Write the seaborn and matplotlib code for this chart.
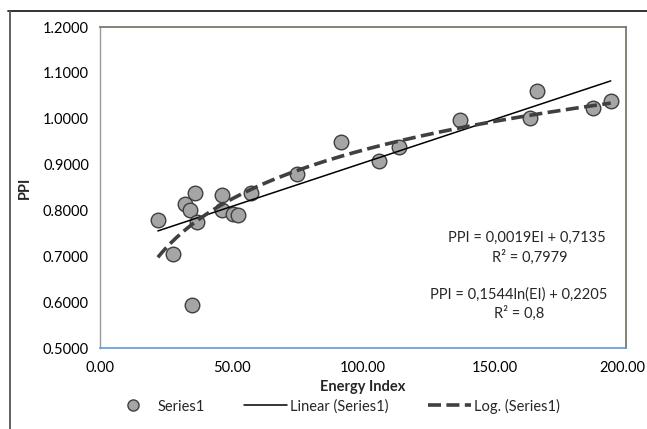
import numpy as np
import pandas as pd
import matplotlib
matplotlib.use("Agg")
import matplotlib.pyplot as plt
import matplotlib.transforms as mtransforms
from matplotlib.lines import Line2D
import seaborn as sns

# Energy Index vs PPI observations
energy_index = [22.0, 27.6, 32.3, 34.1, 34.9, 36.1, 37.0, 46.3, 46.3, 50.7, 52.6,
                57.3, 75.0, 91.5, 106.2, 113.7, 136.9, 163.5, 166.3, 187.6, 194.2]
ppi = [0.780, 0.706, 0.813, 0.800, 0.594, 0.839, 0.774, 0.834, 0.800, 0.792, 0.790,
       0.839, 0.879, 0.949, 0.908, 0.939, 0.997, 1.002, 1.061, 1.023, 1.039]

# Trendline coefficients
lin_slope, lin_intercept, lin_r2 = 0.0019, 0.7135, "0,7979"
log_coef, log_intercept, log_r2 = 0.1544, 0.2205, "0,8"

x_ticks = [0, 50, 100, 150, 200]
y_ticks = [0.5, 0.6, 0.7, 0.8, 0.9, 1.0, 1.1, 1.2]

sns.set_theme(style="white")
plt.rcParams["font.family"] = ["Lato", "DejaVu Sans"]

W, H = 647, 429
fig = plt.figure(figsize=(W / 100, H / 100), dpi=100)
ax = fig.add_axes([100 / W, 1 - 348 / H, 526 / W, 321 / H])

df = pd.DataFrame({"EI": energy_index, "PPI": ppi})
xs = np.linspace(min(energy_index), max(energy_index), 200)
trend = pd.DataFrame({
    "EI": xs,
    "lin": lin_slope * xs + lin_intercept,
    "log": log_coef * np.log(xs) + log_intercept,
})

LOG_DASH = [3.6, 1.5]

sns.scatterplot(data=df, x="EI", y="PPI", ax=ax, s=110, color="#A5A5A5",
                edgecolor="#3F3F3F", linewidth=1.0, zorder=3, legend=False)
sns.lineplot(data=trend, x="EI", y="lin", ax=ax, color="black", linewidth=1.1,
             zorder=4, legend=False)
sns.lineplot(data=trend, x="EI", y="log", ax=ax, color="#404040", linewidth=2.6,
             zorder=4, legend=False)
ax.lines[-1].set_dashes(LOG_DASH)

ax.set_xlim(0, 200)
ax.set_ylim(0.5, 1.2)
ax.set_xticks(x_ticks)
ax.set_xticklabels([f"{v:.2f}" for v in x_ticks])
ax.set_yticks(y_ticks)
ax.set_yticklabels([f"{v:.4f}" for v in y_ticks])
ax.tick_params(axis="both", labelsize=10.5, colors="#000000")
ax.tick_params(axis="y", length=4, color="#888888", direction="out", width=0.8, pad=4)
ax.tick_params(axis="x", length=4, color="#5B9BD5", direction="out", width=1.0, pad=5)

# keep the last x tick label inside the figure edge
last = ax.get_xticklabels()[-1]
last.set_transform(last.get_transform() +
                   mtransforms.ScaledTranslation(-4 / 100, 0, fig.dpi_scale_trans))

ax.set_xlabel("Energy Index", fontsize=10.5, fontweight="bold", labelpad=4)
ax.set_ylabel("PPI", fontsize=10.5, fontweight="bold", labelpad=8)

ax.spines["left"].set_color("#9A9A9A")
ax.spines["left"].set_linewidth(1.0)
for side in ["top", "right"]:
    ax.spines[side].set_color("#7A7A6A")
    ax.spines[side].set_linewidth(1.3)
ax.spines["bottom"].set_color("#5B9BD5")
ax.spines["bottom"].set_linewidth(1.2)

# trendline equation labels
eq_kw = dict(transform=fig.transFigure, ha="center", va="center", fontsize=10.5)
fig.text(527 / W, 1 - 238 / H, "PPI = 0,0019EI + 0,7135", **eq_kw)
fig.text(530 / W, 1 - 257 / H, f"R² = {lin_r2}", **eq_kw)
fig.text(519 / W, 1 - 295 / H, "PPI = 0,1544ln(EI) + 0,2205", **eq_kw)
fig.text(519 / W, 1 - 313 / H, f"R² = {log_r2}", **eq_kw)

handles = [
    Line2D([], [], marker="o", linestyle="none", markersize=8, markerfacecolor="#A5A5A5",
           markeredgecolor="#3F3F3F", markeredgewidth=1.0),
    Line2D([], [], color="black", linewidth=1.1),
    Line2D([], [], color="#404040", linewidth=2.6, dashes=LOG_DASH),
]
fig.legend(handles, ["Series1", "Linear (Series1)", "Log. (Series1)"],
           loc="center", bbox_to_anchor=(336 / W, 1 - 406 / H), ncol=3, frameon=False,
           fontsize=10.5, handlelength=2.9, columnspacing=2.7, handletextpad=0.25)

# chart-area border lines
fig.add_artist(Line2D([8 / W, 1], [1 - 11 / H, 1 - 11 / H], color="#222222",
                      linewidth=1.3, transform=fig.transFigure))
fig.add_artist(Line2D([10 / W, 10 / W], [0, 1 - 11 / H], color="#555555",
                      linewidth=1.3, transform=fig.transFigure))

fig.savefig("out.png", dpi=100)
